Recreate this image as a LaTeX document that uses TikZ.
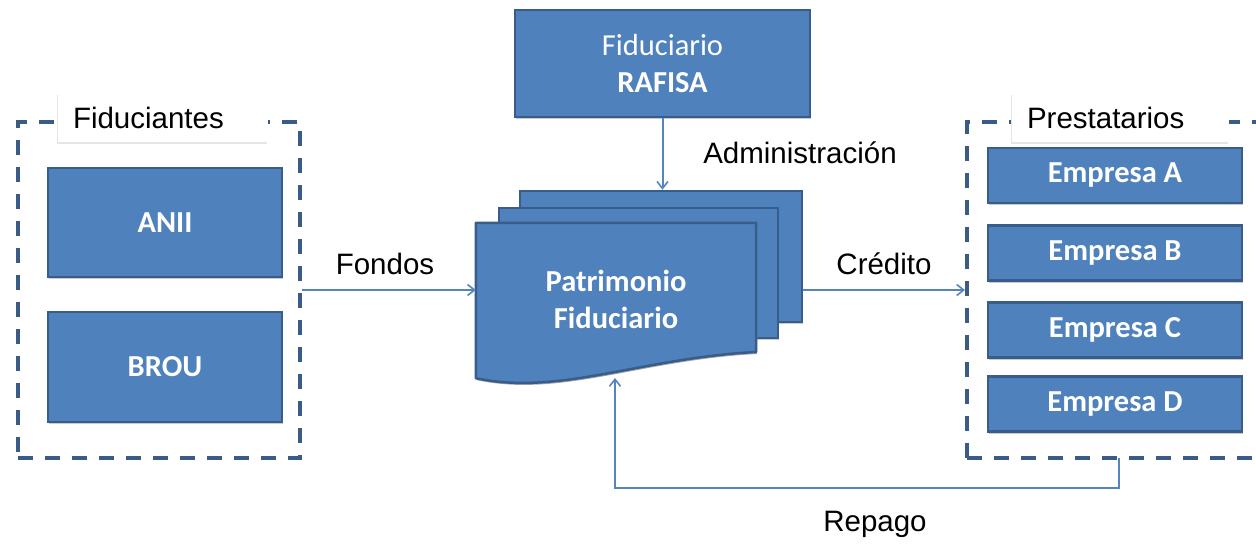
\documentclass[tikz,border=0pt]{standalone}
\usepackage{fontspec}
\setmainfont{Liberation Sans}
\newfontfamily\calib{Carlito}
\usetikzlibrary{arrows.meta,shadows}
\definecolor{boxfill}{HTML}{4F81BD}
\definecolor{boxline}{HTML}{385D8A}
\definecolor{dashcol}{HTML}{3B5B87}
\definecolor{conncol}{HTML}{5585C0}
\tikzset{
  bluebox/.style={draw=boxline, line width=2.5pt, fill=boxfill, text=white,
    font=\calib\fontsize{30.5}{37}\selectfont\bfseries, align=center,
    drop shadow={shadow xshift=1pt, shadow yshift=-2pt, opacity=0.35, fill=black!60}},
  grpbox/.style={draw=dashcol, line width=4pt, dash pattern=on 15pt off 12pt},
  lblbox/.style={fill=white, inner xsep=15pt, inner ysep=0pt, align=left,
    font=\fontsize{29.5}{34}\selectfont,
    drop shadow={shadow xshift=-1pt, shadow yshift=-2pt, opacity=1, fill=black!10}},
  conn/.style={draw=conncol, line width=2pt, -{Straight Barb[length=7pt,width=11pt,line width=1.6pt]}},
  flowlbl/.style={font=\fontsize{29.5}{34}\selectfont, text=black}
}
\begin{document}
\begin{tikzpicture}[x=1pt,y=-1pt]
\useasboundingbox (0,0) rectangle (1256,544);
\clip (0,0) rectangle (1256,544);

% groups
\node[grpbox, minimum width=282pt, minimum height=336pt] (fid) at (159,290) {};
\node[grpbox, minimum width=333pt, minimum height=336pt] (prest) at (1133.5,290) {};
\node[lblbox, text width=180pt, minimum height=49pt] (fidl) at (163,117.5) {Fiduciantes};
\node[lblbox, text width=187pt, minimum height=49pt] (prestl) at (1120.5,117.5) {Prestatarios};

% left boxes
\node[bluebox, minimum width=234pt, minimum height=109pt] (anii) at (165,222.5) {ANII};
\node[bluebox, minimum width=234pt, minimum height=110pt] (brou) at (165,367) {BROU};

% right boxes
\node[bluebox, minimum width=254pt, minimum height=55pt] (ea) at (1115,175.5) {Empresa A};
\node[bluebox, minimum width=254pt, minimum height=55pt] (eb) at (1115,253) {Empresa B};
\node[bluebox, minimum width=254pt, minimum height=55pt] (ec) at (1115,330) {Empresa C};
\node[bluebox, minimum width=254pt, minimum height=55pt] (ed) at (1115,404) {Empresa D};

% top box
\node[bluebox, minimum width=295pt, minimum height=107pt] (raf) at (662.5,63.5)
  {{\mdseries Fiduciario}\\RAFISA};

% multidocument
\node[bluebox, minimum width=282pt, minimum height=131pt] (back) at (661,256.5) {};
\node[bluebox, minimum width=279pt, minimum height=130pt] (mid) at (638.5,273) {};
\node[minimum width=280pt, minimum height=155pt, inner sep=0pt] (front) at (616,300.5) {};
\fill[black!35] ([xshift=1pt,yshift=-2pt]front.north west) -- ([xshift=1pt,yshift=-2pt]front.north east)
  -- ([xshift=1pt,yshift=-2pt]756,352) .. controls ([xshift=1pt,yshift=-2pt]640,358) and ([xshift=1pt,yshift=-2pt]560,396) .. ([xshift=1pt,yshift=-2pt]front.south west) -- cycle;
\draw[draw=boxline, line width=2.5pt, fill=boxfill, line join=round]
  (front.north west) -- (front.north east) -- (756,352)
  .. controls (640,358) and (560,396) .. (front.south west) -- cycle;
\node[text=white, font=\calib\fontsize{30.5}{37}\selectfont\bfseries, align=center] (pf) at (616,299)
  {Patrimonio\\Fiduciario};

% connectors
\draw[conn] (raf.south) -- (raf.south |- back.north);
\draw[conn] (fid.east) -- (fid.east -| front.west);
\draw[conn] (prest.west -| back.east) -- (prest.west);
\coordinate (rp) at (1119,458);
\coordinate (fb) at (615,378);
\draw[conn] (rp) -- (1119,488) -| (fb);

% labels
\node[flowlbl] (lfondos) at (385,264) {Fondos};
\node[flowlbl] (lcred) at (884,264) {Crédito};
\node[flowlbl] (ladm) at (800,153) {Administración};
\node[flowlbl] (lrep) at (875,524) {Repago};
\end{tikzpicture}
\end{document}
